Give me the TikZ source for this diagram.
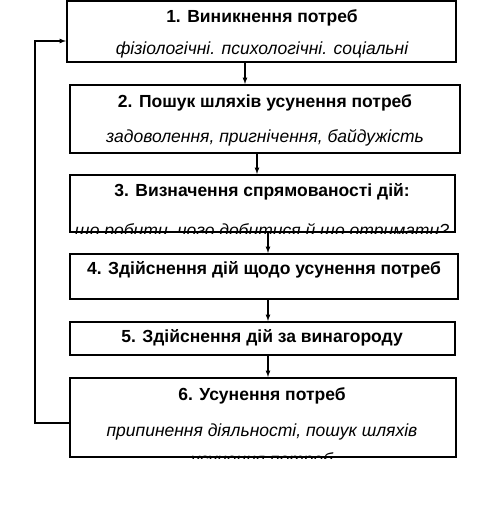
\documentclass[tikz,border=0pt]{standalone}
\usepackage{fontspec}
\setmainfont{Liberation Sans}
\usetikzlibrary{arrows}
\usetikzlibrary{calc, math}

\tikzset{
  box/.style={draw, line width=2, minimum width=#1, inner sep=0},
  ttl/.style={font=\bfseries\fontsize{17.5}{20}\selectfont},
  sub/.style={font=\itshape\fontsize{17.5}{20}\selectfont},
  arr/.style={-latex, line width=1.2}
}

\begin{document}
\begin{tikzpicture}[x=1pt,y=-1pt]
\tikzmath{
\xm=262;
}
\useasboundingbox (0,0) rectangle (502,524);

% boxes
\node[box=389pt, minimum height=61pt] (b1) at (261.5,31.5) {};
\node[box=390pt, minimum height=68pt] (b2) at (265,119) {};
\node[box=385pt, minimum height=57pt] (b3) at (262.5,203.5) {};
\node[box=388pt, minimum height=45pt] (b4) at (264,276.5) {};
\node[box=385pt, minimum height=33pt] (b5) at (262.5,338.5) {};
\node[box=386pt, minimum height=79pt] (b6) at (263,417.5) {};

% texts
\node[ttl] (t1) at (\xm,18) {1. Виникнення потреб};
\node[ttl] (t2) at (\xm+3,103) {2. Пошук шляхів усунення потреб};
\node[ttl] (t3) at (\xm,192) {3. Визначення спрямованості дій:};
\node[ttl] (t4) at (\xm+2,270) {4. Здійснення дій щодо усунення потреб};
\node[ttl] (t5) at (\xm,338) {5. Здійснення дій за винагороду};
\node[ttl] (t6) at (\xm,396) {6. Усунення потреб};

\begin{scope}
\clip (b1.south west) rectangle (b1.north east);
\node[sub] (s1) at (\xm,50) {фізіологічні. психологічні. соціальні};
\end{scope}
\node[sub] (s2) at (\xm+3,138) {задоволення, пригнічення, байдужість};
\begin{scope}
\clip (b3.south west) rectangle (b3.north east);
\node[sub] (s3) at (\xm,232) {що робити, чого добитися й що отримати?};
\end{scope}
\node[sub] (s6) at (\xm,432) {припинення діяльності, пошук шляхів};
\begin{scope}
\clip (b6.south west) rectangle (b6.north east);
\node[sub] (s6b) at (\xm,461) {усунення потреб};
\end{scope}

% arrows
\draw[arr] (b1.south -| 245,0) -- (b2.north -| 245,0);
\draw[arr] (b2.south -| 257,0) -- (b3.north -| 257,0);
\draw[arr] (b3.south -| 268,0) -- (b4.north -| 268,0);
\draw[arr] (b4.south -| 268,0) -- (b5.north -| 268,0);
\draw[arr] (b5.south -| 268,0) -- (b6.north -| 268,0);

% feedback
\coordinate (fb) at (35,0);
\draw[arr] (b6.west |- 0,423) -- (fb |- 0,423) -- (fb |- 0,41) -- (b1.west |- 0,41);

\end{tikzpicture}
\end{document}
